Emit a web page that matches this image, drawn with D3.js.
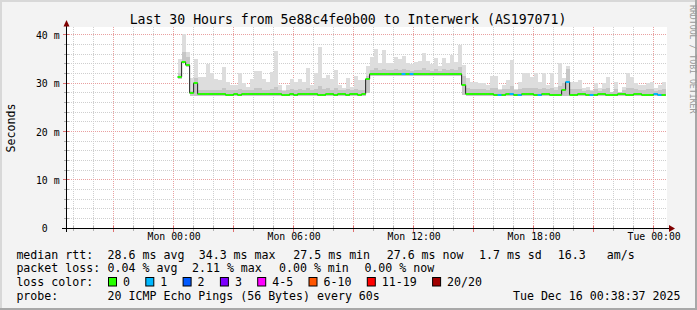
<!DOCTYPE html>
<html>
  <head>
    <meta http-equiv="Content-type" content="text/html; charset=utf-8">
    <title>Smokeping 30 hours</title>
    <script src="https://d3js.org/d3.v7.min.js"></script>
    <style>
      body { margin: 0; background: #f3f3f3; }
      text { font-family: "DejaVu Sans Mono", monospace; }
    </style>
  </head>
  <body>
    <div id="chart"></div>
    <script type="text/javascript">
      // median rtt per 12 minute step (ms), starting Mon 00:12
      var median = [
        31.2, 34.4, 33.7, 27.9, 30.1, 27.8, 27.8, 27.8, 27.8, 27.8,
        27.8, 27.8, 27.6, 27.6, 27.8, 27.6, 27.8, 27.8, 27.8, 27.8,
        27.8, 27.8, 27.8, 27.8, 27.8, 27.8, 27.6, 27.6, 27.8, 27.6,
        27.8, 27.8, 27.8, 27.8, 27.8, 27.6, 27.6, 27.8, 27.8, 27.6,
        27.8, 27.8, 27.6, 27.8, 27.8, 27.6, 27.8, 30.9, 31.8, 31.8,
        31.8, 31.8, 31.8, 31.8, 31.8, 31.8, 31.8, 31.8, 31.8, 31.8,
        31.8, 31.8, 31.8, 31.8, 31.8, 31.8, 31.8, 31.8, 31.8, 31.8,
        31.8, 29.7, 27.8, 27.8, 27.8, 27.8, 27.8, 27.8, 27.8, 27.6,
        27.6, 27.6, 27.8, 27.8, 27.6, 27.6, 27.8, 27.8, 27.8, 27.6,
        27.6, 27.8, 27.8, 27.6, 27.6, 27.6, 28.6, 30.3, 27.6, 27.6,
        27.8, 27.8, 27.6, 27.6, 27.6, 27.8, 27.8, 27.6, 27.6, 27.6,
        27.8, 27.8, 27.6, 27.6, 27.8, 27.8, 27.6, 27.6, 27.6, 27.8,
        27.6, 27.6
      ];
      // highest ping of each step (top of the smoke)
      var smokeHi = [
        35.0, 40.2, 36.4, 31.0, 35.0, 31.3, 31.3, 34.0, 32.0, 30.8,
        30.7, 33.3, 30.3, 29.7, 29.7, 32.0, 30.0, 29.3, 30.8, 32.6,
        32.6, 30.8, 30.3, 32.2, 36.7, 29.6, 28.6, 29.6, 30.8, 30.3,
        30.8, 30.3, 33.2, 29.6, 32.0, 37.5, 31.0, 31.7, 30.8, 32.8,
        29.6, 28.9, 31.1, 29.3, 31.5, 30.7, 30.7, 33.5, 35.5, 37.0,
        34.1, 36.8, 34.1, 34.2, 35.3, 34.9, 35.6, 34.2, 33.9, 34.4,
        34.6, 36.3, 34.6, 33.9, 35.2, 33.5, 35.2, 34.1, 35.8, 34.4,
        37.9, 33.8, 31.0, 30.3, 30.3, 30.0, 30.0, 29.6, 31.5, 31.5,
        28.7, 29.6, 30.6, 34.8, 28.7, 30.3, 32.0, 32.0, 31.3, 32.0,
        30.3, 32.0, 29.6, 32.0, 29.3, 34.1, 31.0, 33.5, 30.3, 30.3,
        30.6, 28.9, 29.3, 28.6, 30.1, 28.9, 30.1, 31.3, 28.2, 30.3,
        28.2, 29.3, 32.0, 31.3, 30.0, 29.6, 29.6, 30.0, 30.3, 28.9,
        29.6, 30.3
      ];
      // top of the denser inner smoke
      var smokeMid = [
        32.0, 36.5, 35.5, 28.4, 31.0, 28.6, 28.6, 28.6, 28.6, 28.6,
        28.6, 28.9, 28.6, 28.6, 28.6, 28.8, 28.6, 28.6, 28.6, 29.0,
        28.9, 28.6, 28.6, 28.8, 29.2, 28.6, 28.4, 28.6, 28.8, 28.6,
        28.8, 28.6, 29.0, 28.6, 28.8, 29.4, 28.8, 28.9, 28.6, 29.0,
        28.6, 28.5, 28.8, 28.6, 28.8, 28.6, 28.6, 31.5, 32.8, 33.2,
        32.7, 33.0, 32.7, 32.7, 32.9, 32.8, 32.9, 32.7, 32.6, 32.7,
        32.8, 33.1, 32.8, 32.6, 32.9, 32.6, 32.9, 32.7, 33.0, 32.8,
        33.4, 31.5, 29.0, 28.8, 28.8, 28.7, 28.7, 28.6, 29.0, 29.0,
        28.5, 28.7, 28.8, 29.4, 28.5, 28.8, 29.0, 29.0, 28.9, 29.0,
        28.8, 29.0, 28.7, 29.0, 28.6, 29.4, 30.1, 33.0, 28.7, 28.7,
        28.8, 28.4, 28.6, 28.4, 28.7, 28.4, 28.7, 28.9, 28.1, 28.7,
        28.1, 28.6, 29.0, 28.9, 28.7, 28.6, 28.6, 28.7, 28.8, 28.4,
        28.6, 28.7
      ];
      // lowest ping of each step (bottom of the smoke)
      var smokeLo = [
        30.8, 34.2, 33.4, 27.4, 27.4, 27.3, 27.3, 27.3, 27.3, 27.3,
        27.3, 27.3, 27.3, 27.3, 27.3, 27.3, 27.3, 27.3, 27.3, 27.3,
        27.3, 27.3, 27.3, 27.3, 27.3, 27.3, 27.3, 27.3, 27.3, 27.3,
        27.3, 27.3, 27.3, 27.3, 27.3, 27.3, 27.3, 27.3, 27.3, 27.3,
        27.3, 27.3, 27.3, 27.3, 27.3, 27.3, 27.3, 28.0, 31.5, 31.5,
        31.5, 31.5, 31.5, 31.5, 31.5, 31.5, 31.5, 31.5, 31.5, 31.5,
        31.5, 31.5, 31.5, 31.5, 31.5, 31.5, 31.5, 31.5, 31.5, 31.5,
        31.5, 27.6, 27.3, 27.3, 27.3, 27.3, 27.3, 27.3, 27.3, 27.3,
        27.3, 27.3, 27.3, 27.3, 27.3, 27.3, 27.3, 27.3, 27.3, 27.3,
        27.3, 27.3, 27.3, 27.3, 27.3, 27.3, 27.3, 27.3, 27.3, 27.3,
        27.3, 27.3, 27.3, 27.3, 27.3, 27.3, 27.3, 27.3, 27.3, 27.3,
        27.3, 27.3, 27.3, 27.3, 27.3, 27.3, 27.3, 27.3, 27.3, 27.3,
        27.3, 27.3
      ];
      // steps where 1 of 20 pings was lost
      var lostOneBins = [56, 58, 80, 83, 85, 90, 97, 103, 119, 120];

      var lossLabels = ["0", "1", "2", "3", "4-5", "6-10", "11-19", "20/20"];
      var lossColors = ["#26ff00", "#00b8ff", "#0059ff", "#7e00ff", "#ff00ff", "#ff5500", "#ff0000", "#a10000"];

      var rttStats = ["28.6 ms avg", "34.3 ms max", "27.5 ms min", "27.6 ms now", "1.7 ms sd", "16.3", "am/s"];
      var lossStats = ["0.04 % avg", "2.11 % max", "0.00 % min", "0.00 % now"];
      var yTicks = [0, 10, 20, 30, 40];

      var width = 697, height = 310;
      var startTime = new Date(Date.UTC(2025, 11, 14, 18, 38, 37)),
        endTime = new Date(Date.UTC(2025, 11, 16, 0, 38, 37)),
        firstBin = Date.UTC(2025, 11, 15, 0, 12),
        step = 12 * 60 * 1000;

      var x = d3.scaleUtc().domain([startTime, endTime]).range([66.5, 666.5]);
      var y = d3.scaleLinear().domain([0, 41.6]).range([228.3, 27]);

      var svg = d3.select("#chart").append("svg")
        .attr("width", width)
        .attr("height", height);

      // background and 3d frame
      svg.append("rect").attr("width", width).attr("height", height).attr("fill", "#f3f3f3");
      svg.append("rect").attr("x", 0).attr("y", 0).attr("width", width).attr("height", 2).attr("fill", "#d8d8d8");
      svg.append("rect").attr("x", 0).attr("y", 0).attr("width", 2).attr("height", height).attr("fill", "#d8d8d8");
      svg.append("rect").attr("x", 0).attr("y", height - 2).attr("width", width).attr("height", 2).attr("fill", "#a8a8a8");
      svg.append("rect").attr("x", width - 2).attr("y", 0).attr("width", 2).attr("height", height).attr("fill", "#a8a8a8");

      // canvas
      svg.append("rect").attr("x", 67).attr("y", 27).attr("width", 600).attr("height", 201.5).attr("fill", "#ffffff");

      var grid = svg.append("g");
      var hours = d3.utcHour.range(startTime, endTime);
      grid.selectAll("line.vx").data(hours).enter().append("line")
        .attr("x1", function(d) { return Math.floor(x(d)) + 0.5; })
        .attr("x2", function(d) { return Math.floor(x(d)) + 0.5; })
        .attr("y1", 27).attr("y2", 228)
        .attr("stroke", function(d) { return d.getUTCHours() % 3 === 0 ? "#e9a0a0" : "#cfcfcf"; })
        .attr("stroke-dasharray", "1,1");

      var minorY = d3.range(2, 42, 2);
      grid.selectAll("line.hy").data(minorY).enter().append("line")
        .attr("x1", 67).attr("x2", 667)
        .attr("y1", function(d) { return Math.floor(y(d)) + 0.5; })
        .attr("y2", function(d) { return Math.floor(y(d)) + 0.5; })
        .attr("stroke", function(d) { return d % 10 === 0 ? "#e9a0a0" : "#cfcfcf"; })
        .attr("stroke-dasharray", "1,1");

      // smoke
      var bins = median.map(function(m, i) {
        return {
          t0: new Date(firstBin + i * step),
          t1: new Date(firstBin + (i + 1) * step),
          med: m, hi: smokeHi[i], mid: smokeMid[i], lo: smokeLo[i],
          loss: lostOneBins.indexOf(i) >= 0 ? 1 : 0
        };
      });

      var smoke = svg.append("g").attr("shape-rendering", "crispEdges");
      smoke.selectAll("rect.outer").data(bins).enter().append("rect")
        .attr("x", function(d) { return x(d.t0); })
        .attr("width", function(d) { return x(d.t1) - x(d.t0); })
        .attr("y", function(d) { return y(d.hi); })
        .attr("height", function(d) { return y(d.lo) - y(d.hi); })
        .attr("fill", "#dddddd");
      smoke.selectAll("rect.inner").data(bins).enter().append("rect")
        .attr("x", function(d) { return x(d.t0); })
        .attr("width", function(d) { return x(d.t1) - x(d.t0); })
        .attr("y", function(d) { return y(d.mid); })
        .attr("height", function(d) { return y(d.lo) - y(d.mid); })
        .attr("fill", "#c6c6c6");

      // median step line
      var pts = bins.map(function(d) { return [x(d.t0), Math.round(y(d.med))]; });
      pts.push([x(bins[bins.length - 1].t1), Math.round(y(bins[bins.length - 1].med))]);
      svg.append("path")
        .attr("d", d3.line().curve(d3.curveStepAfter)(pts))
        .attr("fill", "none")
        .attr("stroke", "#202020")
        .attr("stroke-width", 1);

      svg.append("g").selectAll("line").data(bins).enter().append("line")
        .attr("x1", function(d) { return x(d.t0); })
        .attr("x2", function(d) { return x(d.t1); })
        .attr("y1", function(d) { return Math.round(y(d.med)); })
        .attr("y2", function(d) { return Math.round(y(d.med)); })
        .attr("stroke", function(d) { return lossColors[d.loss]; })
        .attr("stroke-width", 2);

      // axes
      var axes = svg.append("g");
      axes.selectAll("line.tx").data(hours).enter().append("line")
        .attr("x1", function(d) { return Math.floor(x(d)) + 0.5; })
        .attr("x2", function(d) { return Math.floor(x(d)) + 0.5; })
        .attr("y1", 226).attr("y2", function(d) { return d.getUTCHours() % 3 === 0 ? 232 : 231; })
        .attr("stroke", function(d) { return d.getUTCHours() % 3 === 0 ? "#e07070" : "#b0b0b0"; });
      axes.selectAll("line.ty").data(minorY).enter().append("line")
        .attr("x1", function(d) { return d % 10 === 0 ? 63 : 64; }).attr("x2", 69)
        .attr("y1", function(d) { return Math.floor(y(d)) + 0.5; })
        .attr("y2", function(d) { return Math.floor(y(d)) + 0.5; })
        .attr("stroke", function(d) { return d % 10 === 0 ? "#e07070" : "#b0b0b0"; });

      axes.append("line").attr("x1", 62).attr("x2", 671).attr("y1", 228.5).attr("y2", 228.5).attr("stroke", "#000");
      axes.append("line").attr("x1", 66.5).attr("x2", 66.5).attr("y1", 232).attr("y2", 25).attr("stroke", "#000");
      axes.append("path").attr("d", "M669,225L675,228.5L669,232Z").attr("fill", "#7f0000");
      axes.append("path").attr("d", "M63.5,26.5L66.5,20L69.5,26.5Z").attr("fill", "#7f0000");

      var xAxis = d3.axisBottom(x)
        .tickValues(d3.utcHour.every(6).range(startTime, endTime))
        .tickSize(0)
        .tickPadding(0)
        .tickFormat(d3.utcFormat("%a %H:%M"));
      var gx = svg.append("g").attr("transform", "translate(0,233)").call(xAxis);
      gx.select(".domain").remove();
      gx.selectAll("text").attr("font-family", "DejaVu Sans Mono").attr("font-size", "9.85px")
        .attr("fill", "#000").attr("dy", "0.71em");

      var yAxis = d3.axisLeft(y).tickValues(yTicks).tickSize(0).tickPadding(0)
        .tickFormat(d3.format("d"));
      var gy = svg.append("g").attr("transform", "translate(47.8,0)").call(yAxis);
      gy.select(".domain").remove();
      gy.selectAll("text").attr("font-family", "DejaVu Sans Mono").attr("font-size", "9.85px")
        .attr("fill", "#000").attr("dy", "0.36em");
      gy.selectAll(".tick").filter(function(d) { return d !== 0; }).append("text")
        .attr("x", 6).attr("dy", "0.36em").attr("text-anchor", "start")
        .attr("font-family", "DejaVu Sans Mono").attr("font-size", "9.85px").attr("fill", "#000")
        .text("m");

      // titles
      svg.append("text").attr("x", 348).attr("y", 24.3).attr("text-anchor", "middle")
        .style("font-size", "13.2px").text("Last 30 Hours from 5e88c4fe0b00 to Interwerk (AS197071)");
      svg.append("text").attr("transform", "translate(14.5,128) rotate(-90)").attr("text-anchor", "middle")
        .style("font-size", "11.6px").text("Seconds");
      svg.append("text").attr("transform", "translate(689.5,5) rotate(90)").attr("text-anchor", "start")
        .style("font-size", "8.2px").attr("fill", "#999999").text("RRDTOOL / TOBI OETIKER");

      // legend
      var leg = svg.append("g").style("font-size", "11.6px");
      leg.append("text").attr("x", 16.4).attr("y", 258.5).text("median rtt:");
      var rttX = [107.6, 198.7, 293.3, 386.7, 479, 557.8, 606.7];
      rttStats.forEach(function(s, i) {
        leg.append("text").attr("x", rttX[i]).attr("y", 258.5).text(s);
      });
      leg.append("text").attr("x", 16.4).attr("y", 272.3).text("packet loss:");
      var lossX = [107.6, 192, 279, 364.4];
      lossStats.forEach(function(s, i) {
        leg.append("text").attr("x", lossX[i]).attr("y", 272.3).text(s);
      });
      leg.append("text").attr("x", 16.4).attr("y", 286.2).text("loss color:");
      var bx = 108;
      lossLabels.forEach(function(l, i) {
        leg.append("rect").attr("x", bx + 0.5).attr("y", 277.5).attr("width", 8).attr("height", 8.5)
          .attr("fill", lossColors[i]).attr("stroke", "#000").attr("stroke-width", 1);
        leg.append("text").attr("x", bx + 15).attr("y", 286.2).text(l);
        bx = bx + 15 + l.length * 7 + 15.3;
      });
      leg.append("text").attr("x", 16.4).attr("y", 300).text("probe:");
      leg.append("text").attr("x", 107.6).attr("y", 300).text("20 ICMP Echo Pings (56 Bytes) every 60s");
      leg.append("text").attr("x", 680.5).attr("y", 300).attr("text-anchor", "end").text("Tue Dec 16 00:38:37 2025");
    </script>
  </body>
</html>
